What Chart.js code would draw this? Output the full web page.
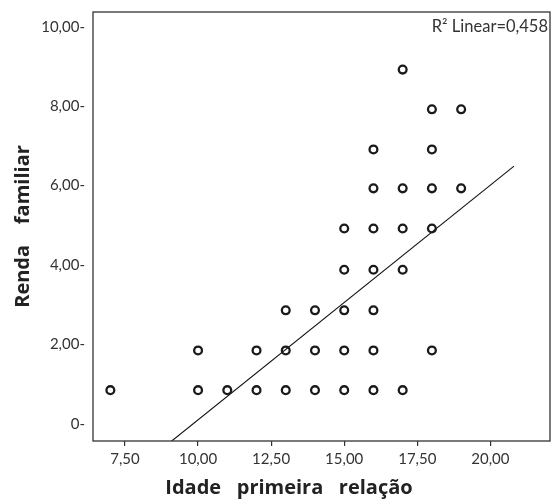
<!DOCTYPE html>
<html>
<head>
<meta charset="utf-8">
<script src="https://cdn.jsdelivr.net/npm/chart.js@4.4.0/dist/chart.umd.min.js"></script>
<style>
  html, body { margin: 0; padding: 0; background: #fff; }
  #wrap { width: 552px; height: 501px; position: relative; }
</style>
</head>
<body>
<div id="wrap"><canvas id="chart"></canvas></div>
<script>
// dados
const idade = [7, 10, 11, 12, 13, 14, 15, 16, 17,
               10, 12, 13, 14, 15, 16, 18,
               13, 14, 15, 16,
               15, 16, 17,
               15, 16, 17, 18,
               16, 17, 18, 19,
               16, 18,
               18, 19,
               17];
const renda = [0.85, 0.85, 0.85, 0.85, 0.85, 0.85, 0.85, 0.85, 0.85,
               1.85, 1.85, 1.85, 1.85, 1.85, 1.85, 1.85,
               2.86, 2.86, 2.86, 2.86,
               3.88, 3.88, 3.88,
               4.92, 4.92, 4.92, 4.92,
               5.93, 5.93, 5.93, 5.93,
               6.91, 6.91,
               7.92, 7.92,
               8.92];

// reta de regressão (extremos)
const retaX = [9.10, 20.81];
const retaY = [-0.43, 6.49];

// eixos
const xTickValues = [7.5, 10, 12.5, 15, 17.5, 20];
const xTickLabels = ['7,50', '10,00', '12,50', '15,00', '17,50', '20,00'];
const yTickValues = [0, 2, 4, 6, 8, 10];
const yTickLabels = ['0-', '2,00-', '4,00-', '6,00-', '8,00-', '10,00-'];

const xTitle = 'Idade   primeira   relação';
const yTitle = 'Renda    familiar';
const r2Label = 'R² Linear=0,458';

const pontos = idade.map((x, i) => ({ x: x, y: renda[i] }));
const reta = retaX.map((x, i) => ({ x: x, y: retaY[i] }));

// moldura, rótulo R² e título do eixo x
const extras = {
    id: 'extras',
    afterDraw(chart) {
        const { ctx, chartArea: a } = chart;
        ctx.save();
        ctx.strokeStyle = '#333';
        ctx.lineWidth = 1.3;
        ctx.strokeRect(a.left, a.top, a.right - a.left, a.bottom - a.top);

        ctx.fillStyle = '#333';
        ctx.font = '16.5px Lato';
        ctx.textAlign = 'right';
        ctx.textBaseline = 'middle';
        ctx.fillText(r2Label, a.right - 2, a.top + 15);

        ctx.fillStyle = '#222';
        ctx.font = 'bold 20px "Open Sans"';
        ctx.textAlign = 'center';
        ctx.fillText(xTitle, 289, 488);
        ctx.restore();
    }
};

new Chart(document.getElementById('chart'), {
    type: 'scatter',
    data: {
        datasets: [
            {
                data: pontos,
                pointStyle: 'circle',
                pointRadius: 3.9,
                pointHoverRadius: 3.9,
                pointBorderWidth: 2.3,
                pointBorderColor: '#1a1a1a',
                pointBackgroundColor: 'rgba(255,255,255,0)'
            },
            {
                type: 'line',
                data: reta,
                borderColor: '#111',
                borderWidth: 1.1,
                pointRadius: 0,
                fill: false
            }
        ]
    },
    options: {
        responsive: true,
        maintainAspectRatio: false,
        animation: false,
        layout: { autoPadding: false, padding: { top: 12, right: 2, left: 0, bottom: 0 } },
        plugins: { legend: { display: false }, tooltip: { enabled: false } },
        scales: {
            x: {
                type: 'linear',
                min: 6.406,
                max: 22.04,
                afterBuildTicks: s => { s.ticks = xTickValues.map(v => ({ value: v })); },
                afterFit: s => { s.height = 60; s.paddingLeft = 0; s.paddingRight = 0; },
                border: { display: false },
                grid: { drawOnChartArea: false, drawTicks: true, tickLength: 5, color: '#333', lineWidth: 1.2 },
                ticks: {
                    padding: 4,
                    color: '#333',
                    font: { family: 'Lato', size: 15 },
                    maxRotation: 0,
                    callback: (v, i) => xTickLabels[i]
                }
            },
            y: {
                min: -0.43,
                max: 10.37,
                afterBuildTicks: s => { s.ticks = yTickValues.map(v => ({ value: v })); },
                afterFit: s => { s.width = 93; s.paddingTop = 0; s.paddingBottom = 0; },
                border: { display: false },
                grid: { display: false, drawTicks: false },
                ticks: {
                    padding: 8,
                    color: '#333',
                    font: { family: 'Lato', size: 15 },
                    callback: (v, i) => yTickLabels[i]
                },
                title: {
                    display: true,
                    text: yTitle,
                    color: '#222',
                    font: { family: 'Open Sans', size: 20, weight: 'bold' },
                    padding: { top: 11, bottom: 0 }
                }
            }
        }
    },
    plugins: [extras]
});
</script>
</body>
</html>
